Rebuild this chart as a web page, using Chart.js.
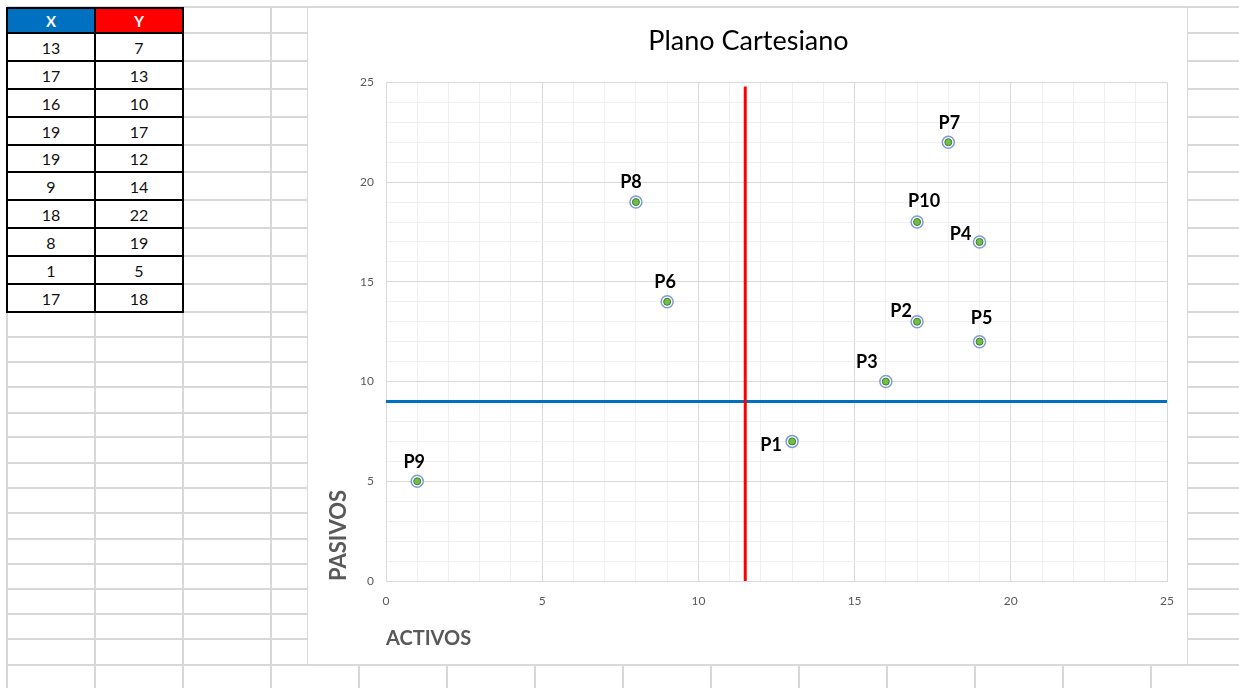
<!DOCTYPE html>
<html>
<head>
<meta charset="utf-8">
<script src="https://cdn.jsdelivr.net/npm/chart.js@4.4.1/dist/chart.umd.min.js"></script>
<style>
  html, body { margin: 0; padding: 0; background: #fff; }
  body { width: 1239px; height: 688px; position: relative; overflow: hidden; font-family: Lato, sans-serif; }
  .hl { position: absolute; height: 2px; background: #d8d8d8; }
  .vl { position: absolute; width: 2px; background: #d8d8d8; }
  .cell { position: absolute; box-sizing: border-box; border: 2px solid #000; background: #fff;
          display: flex; align-items: center; justify-content: center; font-size: 16px; color: #111; }
  .head { color: #fff; font-weight: bold; font-size: 15px; }
  #chartBox { position: absolute; left: 307px; top: 7px; width: 881px; height: 658px;
              background: #fff; border: 1px solid #d9d9d9; box-sizing: border-box; }
  #chartBox canvas { position: absolute; left: 0; top: 0; }
</style>
</head>
<body>
<div id="sheet"></div>
<div id="table"></div>
<div id="chartBox"><canvas id="plano" width="881" height="658"></canvas></div>
<script>
// data read from the sheet
const headers = ["X", "Y"];
const xValues = [13, 17, 16, 19, 19, 9, 18, 8, 1, 17];
const yValues = [7, 13, 10, 17, 12, 14, 22, 19, 5, 18];
const pointNames = ["P1", "P2", "P3", "P4", "P5", "P6", "P7", "P8", "P9", "P10"];
const tickValues = [0, 5, 10, 15, 20, 25];

// reference lines
const vLineX = 11.5;
const vLineTop = 24.8;
const hLineY = 9;

// label nudges in px (dx, dy), like the hand-moved labels in Excel
const labelOffsets = [[-21, 4], [-16, -11], [-19, -19], [-19, -8], [2, -23],
                      [-2, -20], [1, -19], [-5, -20], [-3, -19], [7, -21]];

// ---- spreadsheet grid behind everything ----
const sheet = document.getElementById("sheet");
const colLines = [7, 95, 183, 271, 359, 447, 535, 623, 711, 799, 887, 975, 1063, 1151];
const rowLines = [7, 33, 61, 89, 117, 145, 172, 200, 228, 256, 284, 312, 337, 362, 387,
                  413, 437, 463, 488, 513, 539, 564, 589, 614, 639, 665];
rowLines.forEach(y => {
  const d = document.createElement("div");
  d.className = "hl";
  d.style.left = "7px"; d.style.width = "1232px"; d.style.top = (y - 1) + "px";
  sheet.appendChild(d);
});
colLines.forEach(x => {
  const d = document.createElement("div");
  d.className = "vl";
  d.style.left = (x - 1) + "px"; d.style.top = "7px"; d.style.height = "681px";
  sheet.appendChild(d);
});

// ---- X / Y table ----
const table = document.getElementById("table");
const colX = [7, 95], colW = 88;
const rowTops = [8, 33, 61, 89, 117, 145, 172, 200, 228, 256, 284, 312];
function addCell(left, top, w, h, text, cls, bg) {
  const c = document.createElement("div");
  c.className = "cell" + (cls ? " " + cls : "");
  c.style.left = (left - 1) + "px"; c.style.top = (top - 1) + "px";
  c.style.width = (w + 2) + "px"; c.style.height = (h + 2) + "px";
  if (bg) c.style.background = bg;
  c.textContent = text;
  table.appendChild(c);
}
addCell(colX[0], rowTops[0], colW, rowTops[1] - rowTops[0], headers[0], "head", "#0070C0");
addCell(colX[1], rowTops[0], colW, rowTops[1] - rowTops[0], headers[1], "head", "#FF0000");
for (let i = 0; i < xValues.length; i++) {
  const h = rowTops[i + 2] - rowTops[i + 1];
  addCell(colX[0], rowTops[i + 1], colW, h, xValues[i]);
  addCell(colX[1], rowTops[i + 1], colW, h, yValues[i]);
}

// ---- chart ----
Chart.defaults.font.family = "Lato";
const points = xValues.map((x, i) => ({ x: x, y: yValues[i] }));

const gridColor = ctx => (ctx.tick && ctx.tick.value % 5 === 0) ? "#d9d9d9" : "#f0f0f0";
const tickLabel = v => tickValues.includes(v) ? v : "";

const pointLabels = {
  id: "pointLabels",
  afterDatasetsDraw(chart) {
    const { ctx, scales } = chart;
    ctx.save();
    ctx.font = "bold 18px Lato";
    ctx.fillStyle = "#000";
    ctx.textAlign = "center";
    ctx.textBaseline = "middle";
    pointNames.forEach((name, i) => {
      const px = scales.x.getPixelForValue(xValues[i]) + labelOffsets[i][0];
      const py = scales.y.getPixelForValue(yValues[i]) + labelOffsets[i][1];
      ctx.fillText(name, px, py);
    });
    ctx.restore();
  }
};

new Chart(document.getElementById("plano"), {
  type: "scatter",
  data: {
    datasets: [
      {
        label: "inner",
        data: points,
        pointRadius: 3.5,
        pointBackgroundColor: "#6fbf4a",
        pointBorderColor: "#3f7d2b",
        pointBorderWidth: 1
      },
      {
        label: "outer",
        data: points,
        pointRadius: 6,
        pointBackgroundColor: "#ffffff",
        pointBorderColor: "#7f9cd3",
        pointBorderWidth: 1.5
      },
      {
        label: "vertical",
        data: [{ x: vLineX, y: 0 }, { x: vLineX, y: vLineTop }],
        showLine: true,
        borderColor: "#FF0000",
        borderWidth: 3,
        pointRadius: 0
      },
      {
        label: "horizontal",
        data: [{ x: 0, y: hLineY }, { x: 25, y: hLineY }],
        showLine: true,
        borderColor: "#0070C0",
        borderWidth: 3,
        pointRadius: 0
      }
    ]
  },
  options: {
    responsive: false,
    animation: false,
    devicePixelRatio: 1,
    layout: { padding: { left: 22, right: 22, top: 0, bottom: 0 } },
    plugins: {
      legend: { display: false },
      tooltip: { enabled: false },
      title: {
        display: true,
        text: "Plano Cartesiano",
        color: "#000",
        font: { size: 27, weight: "normal" },
        padding: { top: 17, bottom: 25 }
      }
    },
    scales: {
      x: {
        type: "linear",
        min: 0,
        max: 25,
        afterFit: s => { s.height = 85; },
        grid: { color: gridColor, drawTicks: false },
        border: { color: "#d9d9d9" },
        ticks: {
          stepSize: 1,
          autoSkip: false,
          maxRotation: 0,
          padding: 13,
          color: "#595959",
          font: { size: 12 },
          callback: tickLabel
        },
        title: {
          display: true,
          text: "ACTIVOS",
          align: "start",
          color: "#595959",
          font: { size: 20, weight: "bold" },
          padding: { top: 0, bottom: 15 }
        }
      },
      y: {
        type: "linear",
        min: 0,
        max: 25,
        afterFit: s => { s.width = 56; },
        grid: { color: gridColor, drawTicks: false },
        border: { color: "#d9d9d9" },
        ticks: {
          stepSize: 1,
          autoSkip: false,
          padding: 12,
          color: "#595959",
          font: { size: 12 },
          callback: tickLabel
        },
        title: {
          display: true,
          text: "PASIVOS",
          align: "start",
          color: "#595959",
          font: { size: 22, weight: "bold", lineHeight: 0.8 },
          padding: { top: 0, bottom: 0 }
        }
      }
    }
  },
  plugins: [pointLabels]
});
</script>
</body>
</html>
